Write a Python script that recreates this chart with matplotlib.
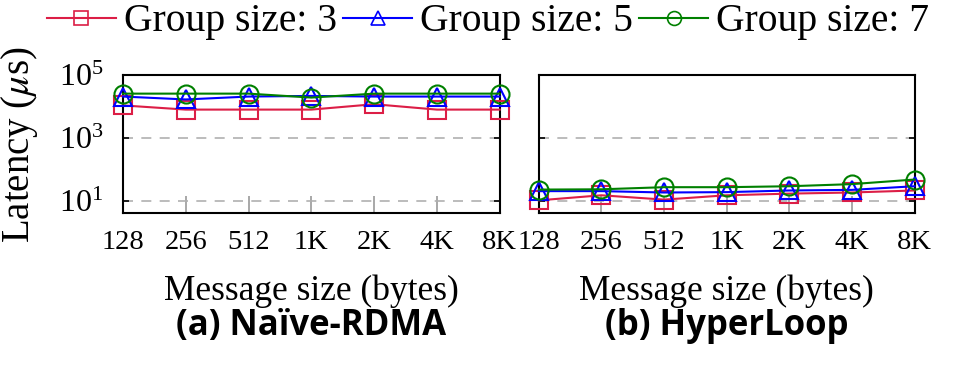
import numpy as np
import matplotlib
matplotlib.use("Agg")
import matplotlib.pyplot as plt
from matplotlib.ticker import LogFormatterMathtext, NullLocator

plt.rcParams['font.family'] = ['Liberation Serif', 'DejaVu Serif']
plt.rcParams['mathtext.fontset'] = 'stix'

msg_sizes = ['128', '256', '512', '1K', '2K', '4K', '8K']
group_labels = ['Group size: 3', 'Group size: 5', 'Group size: 7']

# latency in microseconds
naive_g3 = [11000, 8100, 8100, 8100, 12000, 8100, 8100]
naive_g5 = [21000, 17000, 21000, 22000, 21000, 21000, 21000]
naive_g7 = [26000, 26000, 26000, 19500, 26000, 26000, 26000]

hyper_g3 = [10.7, 15.5, 11.3, 15.5, 17.5, 19, 22]
hyper_g5 = [21, 21, 19, 19.5, 22, 23, 30]
hyper_g7 = [23.5, 24, 28, 28, 30, 35, 49]

colors = ['#dc1e46', '#0000ff', '#008000']
markers = ['s', '^', 'o']

fig = plt.figure(figsize=(9.76, 3.65), dpi=100)
ax1 = fig.add_axes([0.126, 0.416, 0.386, 0.378])
ax2 = fig.add_axes([0.552, 0.416, 0.385, 0.378])

x = np.arange(len(msg_sizes))
panels = [(ax1, [naive_g3, naive_g5, naive_g7], '(a) Naïve-RDMA'),
          (ax2, [hyper_g3, hyper_g5, hyper_g7], '(b) HyperLoop')]

for ax, series, caption in panels:
    ax.set_yscale('log')
    ax.set_ylim(4.2, 1e5)
    ax.set_xlim(0, 6)
    for ys, c, m in zip(series, colors, markers):
        ax.plot(x, ys, color=c, marker=m, markersize=13, markerfacecolor='none',
                markeredgewidth=1.5, linewidth=1.5, clip_on=False, zorder=3)
    ax.set_yticks([10, 1e3, 1e5])
    ax.yaxis.set_major_formatter(LogFormatterMathtext())
    ax.yaxis.set_minor_locator(NullLocator())
    ax.grid(axis='y', which='major', linestyle=(0, (6, 5)), color='#b0b0b0', linewidth=1.2)
    ax.set_xticks(x)
    ax.set_xticklabels(msg_sizes, fontsize=20.5)
    ax.tick_params(axis='x', direction='in', length=12, color='#999999', width=1.2, pad=12)
    ax.tick_params(axis='y', direction='in', length=4, width=1.2, labelsize=23, right=True, pad=14)
    for s in ax.spines.values():
        s.set_linewidth(1.5)
    ax.set_xlabel('Message size (bytes)', fontsize=25.5, labelpad=14)
    ax.text(0.5, -0.82, caption, transform=ax.transAxes, ha='center', va='center',
            fontsize=25, fontweight='bold', family=['Open Sans', 'DejaVu Sans'])

ax2.tick_params(axis='y', labelleft=False)
fig.text(20 / 976, 1 - 145 / 365, r'Latency ($\mu$s)', rotation=90, ha='center', va='center',
         fontsize=28)

leg_handles = []
for c, m, lbl in zip(colors, markers, group_labels):
    leg_handles.append(plt.Line2D([], [], color=c, marker=m, markersize=10, markerfacecolor='none',
                                  markeredgewidth=1.2, linewidth=1.5, label=lbl))
fig.legend(handles=leg_handles, loc='center', bbox_to_anchor=(0.5, 0.94), ncol=3,
           frameon=False, fontsize=28.5, handlelength=1.75, handletextpad=0.2, columnspacing=0.15)

fig.savefig('out.png', dpi=100)
